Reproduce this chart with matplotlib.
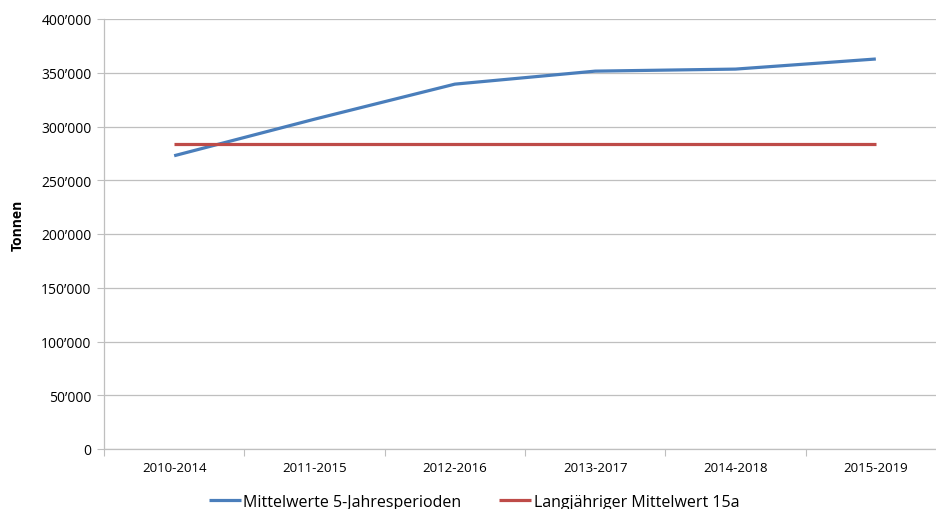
import numpy as np
import matplotlib.pyplot as plt
from matplotlib.ticker import FuncFormatter, FixedLocator

# data
perioden = ['2010-2014', '2011-2015', '2012-2016', '2013-2017', '2014-2018', '2015-2019']
mittelwerte_5j = [272800, 306800, 339400, 351500, 353400, 362800]
langjaehrig_15a = [283600] * 6
y_ticks = [0, 50000, 100000, 150000, 200000, 250000, 300000, 350000, 400000]

plt.rcParams['font.family'] = ['Open Sans', 'DejaVu Sans']

fig = plt.figure(figsize=(9.36, 5.10), dpi=100)
# plot area runs a bit past the right edge, as in the reference
ax = fig.add_axes([104 / 936, 60 / 510, 842 / 936, 430 / 510])

x = np.arange(len(perioden))
l1, = ax.plot(x, mittelwerte_5j, color='#4A7EBB', lw=2.3, solid_capstyle='butt',
              label='Mittelwerte 5-Jahresperioden')
l2, = ax.plot(x, langjaehrig_15a, color='#BE4B48', lw=2.3, solid_capstyle='butt',
              label='Langjähriger Mittelwert 15a')

ax.set_xlim(-0.5, len(perioden) - 0.5)
ax.set_ylim(0, 400000)
ax.set_yticks(y_ticks)
ax.yaxis.set_major_formatter(FuncFormatter(lambda v, p: '0' if v == 0 else f'{int(v):,}'.replace(',', '\u2019')))
ax.yaxis.grid(True, color='#BFBFBF', lw=0.9)
ax.set_axisbelow(True)

# category labels in the middle, tick marks on the boundaries
ax.xaxis.set_major_locator(FixedLocator(np.arange(-0.5, len(perioden), 1.0)))
ax.xaxis.set_major_formatter(FuncFormatter(lambda v, p: ''))
ax.xaxis.set_minor_locator(FixedLocator(x))
ax.set_xticklabels(perioden, minor=True)
ax.tick_params(axis='x', which='minor', length=0, pad=9, labelsize=9.5)
ax.tick_params(axis='x', which='major', length=5, color='#BFBFBF')
ax.tick_params(axis='y', length=5, color='#BFBFBF', labelsize=10, pad=4)

for s in ['top', 'right']:
    ax.spines[s].set_visible(False)
for s in ['left', 'bottom']:
    ax.spines[s].set_color('#BFBFBF')
    ax.spines[s].set_linewidth(0.9)

fig.text(18 / 936, 285 / 510, 'Tonnen', rotation=90, ha='center', va='center',
         fontsize=10, fontweight='bold')

fig.legend(handles=[l1, l2], loc='center', bbox_to_anchor=(474 / 936, 7 / 510),
           ncol=2, frameon=False, fontsize=11.5, handlelength=2.0,
           handletextpad=0.15, columnspacing=2.4)

fig.savefig('out.png', dpi=100)
